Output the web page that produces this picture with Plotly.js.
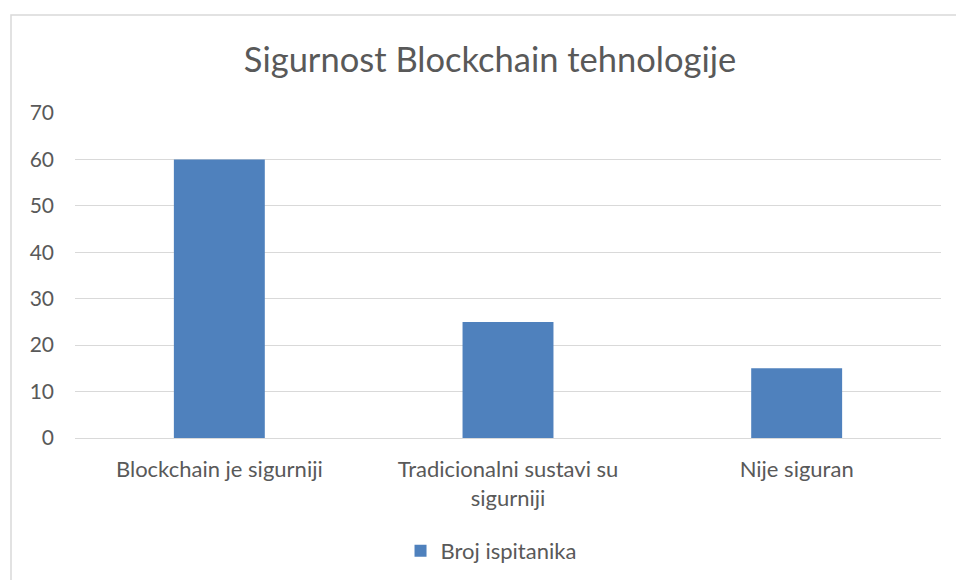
<!DOCTYPE html>
<html>
<head>
<meta charset="utf-8">
<script src="https://cdn.plot.ly/plotly-3.0.1.min.js"></script>
<style>
html,body{margin:0;padding:0;background:#fff;}
#chart{width:956px;height:580px;}
</style>
</head>
<body>
<div id="chart"></div>
<script>
const categories = ["Blockchain je sigurniji", "Tradicionalni sustavi su<br>sigurniji", "Nije siguran"];
const seriesName = "Broj ispitanika";
const values = [60, 25, 15];
const yTicks = [0, 10, 20, 30, 40, 50, 60, 70];
const chartTitle = "Sigurnost Blockchain tehnologije";

const FONT = "Lato, 'Open Sans', sans-serif";
const TXT = "#595959";

const data = [{
  type: "bar",
  x: categories,
  y: values,
  name: seriesName,
  marker: {color: "#4f81bd", line: {width: 0}},
  showlegend: true
}];

const layout = {
  width: 956,
  height: 580,
  margin: {l: 75, r: 15, t: 113, b: 142},
  paper_bgcolor: "#ffffff",
  plot_bgcolor: "#ffffff",
  font: {family: FONT, color: TXT, size: 22},
  title: {
    text: chartTitle,
    font: {family: FONT, size: 34.5, color: TXT},
    x: 0.5126, xref: "container", xanchor: "center",
    y: 1 - 60/580, yref: "container", yanchor: "middle"
  },
  bargap: 0.685,
  xaxis: {
    type: "category",
    showgrid: false,
    showline: false,
    zeroline: false,
    ticks: "",
    ticklabelstandoff: 16,
    tickfont: {family: FONT, size: 22, color: TXT},
    fixedrange: true
  },
  yaxis: {
    range: [0, 70],
    tickvals: yTicks,
    ticktext: yTicks.map(String),
    showgrid: true,
    gridcolor: "#d9d9d9",
    gridwidth: 1,
    zeroline: true,
    zerolinecolor: "#d9d9d9",
    zerolinewidth: 1,
    showline: false,
    ticks: "",
    ticklabelstandoff: 20,
    tickfont: {family: FONT, size: 21, color: TXT},
    fixedrange: true
  },
  showlegend: true,
  legend: {
    orientation: "h",
    xref: "paper", x: 0.4804, xanchor: "center",
    yref: "container", y: 1 - 551/580, yanchor: "middle",
    font: {family: FONT, size: 22, color: TXT},
    itemwidth: 30,
    bgcolor: "rgba(0,0,0,0)"
  },
  shapes: [{
    type: "rect", xref: "paper", yref: "paper",
    x0: (11 - 75) / 866, x1: 1.2,
    y0: -1, y1: (438 - 15) / 325,
    line: {color: "#d9d9d9", width: 1.5},
    fillcolor: "rgba(0,0,0,0)",
    layer: "below"
  }]
};

Plotly.newPlot("chart", data, layout, {displayModeBar: false, staticPlot: true});
</script>
</body>
</html>
